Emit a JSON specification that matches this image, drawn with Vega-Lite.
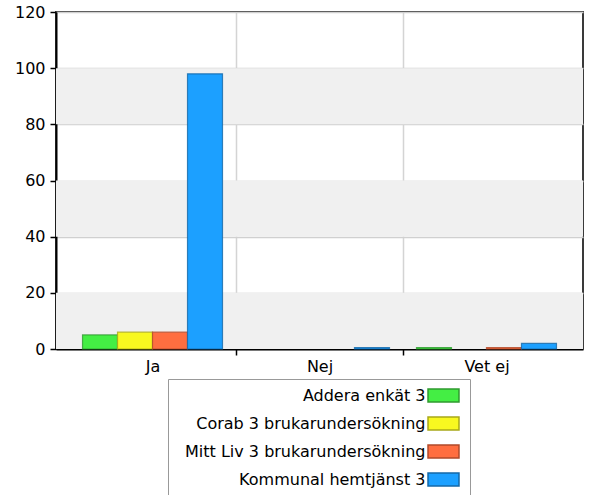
{
  "$schema": "https://vega.github.io/schema/vega-lite/v6.json",
  "width": 527,
  "height": 337,
  "autosize": {"type": "none"},
  "padding": {"left": 56, "top": 12, "right": 8, "bottom": 146},
  "config": {
    "font": "DejaVu Sans",
    "view": {"stroke": "#3a3a3a", "strokeWidth": 2},
    "axis": {
      "labelFont": "DejaVu Sans",
      "labelFontSize": 16,
      "labelColor": "#000",
      "tickColor": "#000",
      "domainColor": "#000",
      "tickSize": 6,
      "title": null
    }
  },
  "datasets": {
    "bands": [
      {"lo": 0, "hi": 20},
      {"lo": 40, "hi": 60},
      {"lo": 80, "hi": 100}
    ],
    "answers": [
      {"svar": "Ja", "serie": "Addera enkät 3", "andel": 5},
      {"svar": "Ja", "serie": "Corab 3 brukarundersökning", "andel": 6},
      {"svar": "Ja", "serie": "Mitt Liv 3 brukarundersökning", "andel": 6},
      {"svar": "Ja", "serie": "Kommunal hemtjänst 3", "andel": 98},
      {"svar": "Nej", "serie": "Kommunal hemtjänst 3", "andel": 0.5},
      {"svar": "Vet ej", "serie": "Addera enkät 3", "andel": 0.5},
      {"svar": "Vet ej", "serie": "Mitt Liv 3 brukarundersökning", "andel": 0.5},
      {"svar": "Vet ej", "serie": "Kommunal hemtjänst 3", "andel": 2}
    ]
  },
  "layer": [
    {
      "data": {"name": "bands"},
      "mark": {"type": "rect", "fill": "#f0f0f0", "opacity": 1},
      "encoding": {
        "y": {"field": "lo", "type": "quantitative", "scale": {"domain": [0, 120], "nice": false}},
        "y2": {"field": "hi"}
      }
    },
    {
      "data": {"name": "answers"},
      "mark": {"type": "bar", "strokeWidth": 1.2, "strokeOpacity": 0.8},
      "encoding": {
        "x": {
          "field": "svar",
          "type": "nominal",
          "sort": ["Ja", "Nej", "Vet ej"],
          "scale": {"domain": ["Ja", "Nej", "Vet ej"], "paddingInner": 0, "paddingOuter": 0.078},
          "axis": {
            "labelAngle": 0,
            "labelPadding": 3,
            "tickBand": "extent",
            "domainWidth": 2,
            "tickWidth": 1.5,
            "grid": true,
            "gridColor": "#d4d4d4",
            "gridWidth": 1.5,
            "gridOpacity": {"condition": {"test": "datum.value === 'Vet ej' || datum.extra", "value": 0}, "value": 1},
            "tickOpacity": {"condition": {"test": "datum.value === 'Vet ej' || datum.extra", "value": 0}, "value": 1}
          }
        },
        "xOffset": {
          "field": "serie",
          "type": "nominal",
          "sort": ["Addera enkät 3", "Corab 3 brukarundersökning", "Mitt Liv 3 brukarundersökning", "Kommunal hemtjänst 3"],
          "scale": {
            "domain": ["Addera enkät 3", "Corab 3 brukarundersökning", "Mitt Liv 3 brukarundersökning", "Kommunal hemtjänst 3"],
            "paddingInner": 0,
            "paddingOuter": 0.386
          }
        },
        "y": {
          "field": "andel",
          "type": "quantitative",
          "scale": {"domain": [0, 120], "nice": false},
          "axis": {
            "values": [0, 20, 40, 60, 80, 100, 120],
            "labelPadding": 5,
            "domainWidth": 2,
            "tickWidth": 1.5,
            "grid": true,
            "gridColor": "#d0d0d0",
            "gridWidth": 1.5,
            "zindex": 0
          }
        },
        "fill": {
          "field": "serie",
          "type": "nominal",
          "scale": {
            "domain": ["Addera enkät 3", "Corab 3 brukarundersökning", "Mitt Liv 3 brukarundersökning", "Kommunal hemtjänst 3"],
            "range": ["#44ee44", "#f8f820", "#ff6e40", "#1ca0ff"]
          },
          "legend": {
            "orient": "none",
            "legendX": 112,
            "legendY": 367,
            "title": null,
            "symbolType": "M-2,-0.84H2V0.84H-2Z",
            "symbolSize": 240,
            "symbolOffset": 259,
            "symbolStrokeColor": "#222",
            "symbolStrokeWidth": 1.5,
            "symbolOpacity": 1,
            "labelAlign": "right",
            "labelOffset": -26.5,
            "labelFont": "DejaVu Sans",
            "labelFontSize": 16,
            "labelColor": "#000",
            "labelLimit": 0,
            "rowPadding": 7,
            "padding": 8,
            "strokeColor": "#999",
            "fillColor": "#fff"
          }
        },
        "stroke": {
          "field": "serie",
          "type": "nominal",
          "scale": {
            "domain": ["Addera enkät 3", "Corab 3 brukarundersökning", "Mitt Liv 3 brukarundersökning", "Kommunal hemtjänst 3"],
            "range": ["#2f9a2f", "#a8a818", "#b04a2a", "#1468a8"]
          },
          "legend": null
        }
      }
    }
  ]
}
